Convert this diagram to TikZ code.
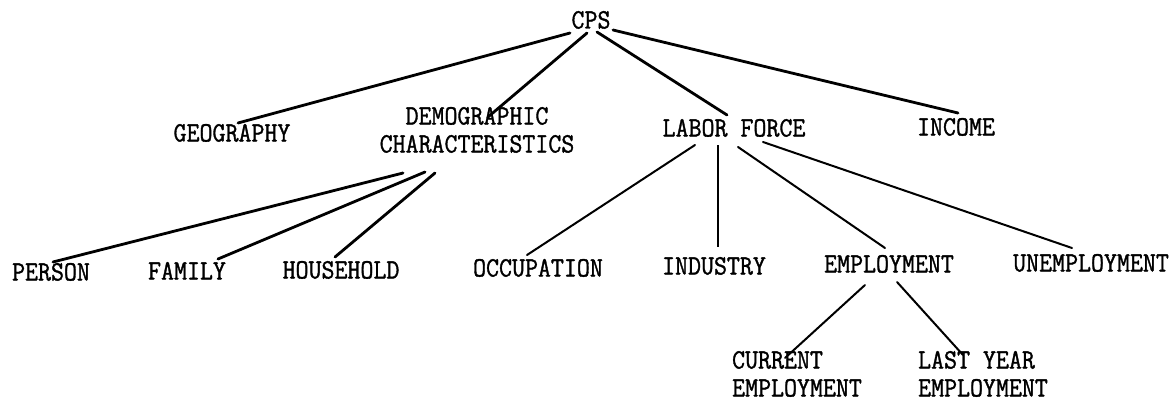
\documentclass[tikz,border=0pt]{standalone}
\usepackage{fontspec}
\newfontfamily\typewriter[FakeStretch=0.9, FakeBold=1.2]{Latin Modern Mono}
\tikzset{
  term/.style={font=\typewriter\fontsize{28}{28}\selectfont, align=center, inner sep=0pt, text height=17pt, text depth=0pt},
  branch/.style={line width=2.8pt, line cap=round},
  twig/.style={line width=2pt, line cap=round}
}
\begin{document}
\begin{tikzpicture}[x=1pt, y=-1pt]
\useasboundingbox (0,0) rectangle (1174,412);
% levels
\node[term] (cps) at (591,20) {CPS};
\node[term] (geo) at (232,133) {GEOGRAPHY};
\node[term] (dem) at (477,144) {DEMOGRAPHIC\\CHARACTERISTICS};
\node[term] (lab) at (734,128) {LABOR~FORCE};
\node[term] (inc) at (956,127) {INCOME};
\node[term] (per) at (51,272) {PERSON};
\node[term] (fam) at (187,271) {FAMILY};
\node[term] (hou) at (341,270) {HOUSEHOLD};
\node[term] (occ) at (538,268) {OCCUPATION};
\node[term] (ind) at (714,266) {INDUSTRY};
\node[term] (emp) at (889,264) {EMPLOYMENT};
\node[term] (unemp) at (1091,263) {UNEMPLOYMENT};
\node[term, align=left] (cur) at (797,388) {CURRENT\\EMPLOYMENT};
\node[term, align=left] (last) at (983,388) {LAST~YEAR\\EMPLOYMENT};
% branches
\draw[branch] ([shift={(-21,13)}]cps.center)--([shift={(6,-10)}]geo.center);
\draw[branch] ([shift={(-4,13)}]cps.center)--([shift={(11,-27)}]dem.center);
\draw[branch] ([shift={(6,12)}]cps.center)--([shift={(-7,-13)}]lab.center);
\draw[branch] ([shift={(22,10)}]cps.center)--([shift={(2,-14)}]inc.center);
\draw[branch] ([shift={(-74,29)}]dem.center)--([shift={(2,-10)}]per.center);
\draw[branch] ([shift={(-52,28)}]dem.center)--([shift={(31,-12)}]fam.center);
\draw[branch] ([shift={(-42,29)}]dem.center)--([shift={(-6,-13)}]hou.center);
\draw[twig] ([shift={(-39,17)}]lab.center)--([shift={(-11,-13)}]occ.center);
\draw[line width=1.3pt] ([shift={(-16,17)}]lab.center)--([shift={(4,-19)}]ind.center);
\draw[twig] ([shift={(4,19)}]lab.center)--([shift={(-4,-16)}]emp.center);
\draw[twig] ([shift={(29,14)}]lab.center)--([shift={(-19,-15)}]unemp.center);
\draw[twig] ([shift={(-24,21)}]emp.center)--([shift={(-12,-30)}]cur.center);
\draw[twig] ([shift={(8,18)}]emp.center)--([shift={(-20,-33)}]last.center);
\end{tikzpicture}
\end{document}
